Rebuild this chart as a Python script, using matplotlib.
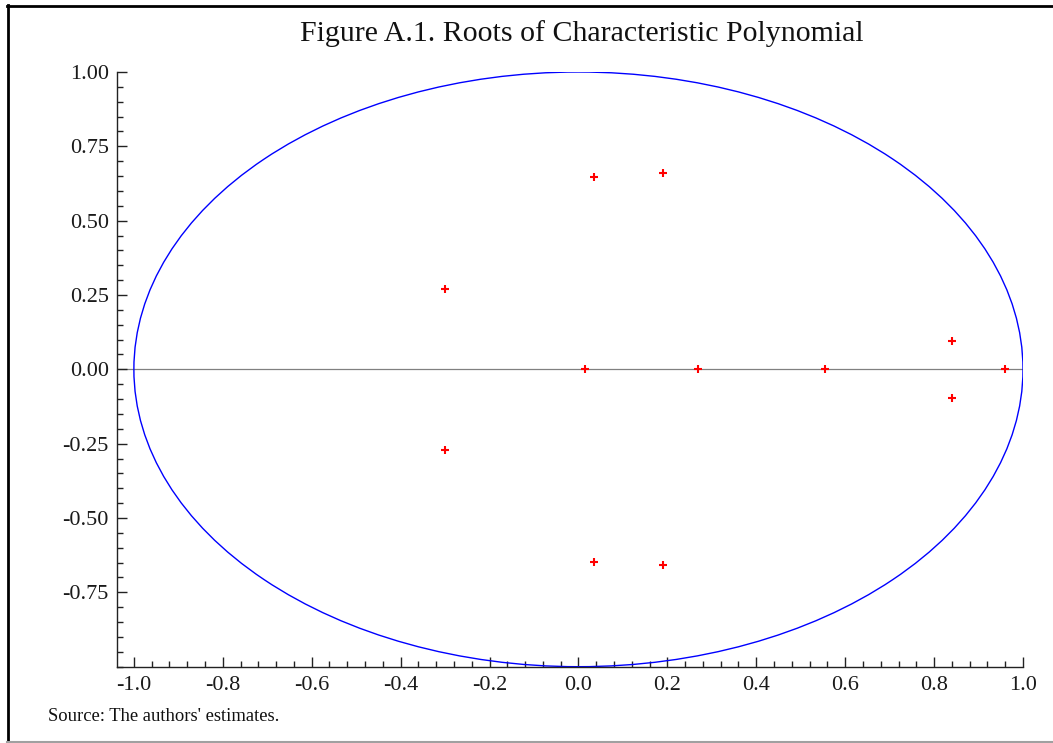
import matplotlib
matplotlib.use("Agg")
import matplotlib.pyplot as plt
from matplotlib.patches import Circle
from matplotlib.lines import Line2D
from matplotlib.ticker import MultipleLocator, FixedLocator

# Data: roots of the characteristic polynomial (real, imaginary)
root_real = [0.035, 0.19, -0.30, -0.30, 0.035, 0.19, 0.015, 0.27, 0.555, 0.96, 0.84, 0.84]
root_imag = [0.648, 0.659, 0.271, -0.271, -0.648, -0.659, 0.0, 0.0, 0.0, 0.0, 0.097, -0.097]

x_ticks = [-1.0, -0.8, -0.6, -0.4, -0.2, 0.0, 0.2, 0.4, 0.6, 0.8, 1.0]
x_labels = ["-1.0", "-0.8", "-0.6", "-0.4", "-0.2", "0.0", "0.2", "0.4", "0.6", "0.8", "1.0"]
y_ticks = [1.00, 0.75, 0.50, 0.25, 0.00, -0.25, -0.50, -0.75]
y_labels = ["1.00", "0.75", "0.50", "0.25", "0.00", "-0.25", "-0.50", "-0.75"]

title = "Figure A.1. Roots of Characteristic Polynomial"
source = "Source: The authors' estimates."

plt.rcParams['font.family'] = ['Liberation Serif', 'DejaVu Serif']

fig = plt.figure(figsize=(10.53, 7.43), dpi=100)
ax = fig.add_axes([0.1111, 0.1027, 0.8604, 0.8004])

ax.add_patch(Circle((0, 0), 1.0, fill=False, edgecolor='#0000ff', lw=1.0, zorder=2))
ax.axhline(0, color='#808080', lw=0.9, zorder=1)
ax.plot(root_real, root_imag, linestyle='none', marker='+', color='#ff0000',
        markersize=6, markeredgewidth=1.5, zorder=3)

ax.set_xlim(-1.038, 1.0)
ax.set_ylim(-1.0, 1.0)

for s in ['top', 'right']:
    ax.spines[s].set_visible(False)
for s in ['left', 'bottom']:
    ax.spines[s].set_color('#222222')
    ax.spines[s].set_linewidth(1.0)

ax.xaxis.set_major_locator(FixedLocator(x_ticks))
ax.set_xticklabels(x_labels)
ax.yaxis.set_major_locator(FixedLocator(y_ticks))
ax.set_yticklabels(y_labels)
ax.xaxis.set_minor_locator(MultipleLocator(0.04))
ax.yaxis.set_minor_locator(MultipleLocator(0.05))

ax.tick_params(which='major', direction='in', length=7, width=1.0, color='#222222',
               labelsize=16, labelcolor='#1a1a1a')
ax.tick_params(which='minor', direction='in', length=4, width=1.0, color='#222222')
ax.tick_params(axis='x', which='major', pad=7)
ax.tick_params(axis='y', which='major', pad=6)

fig.text(0.553, 0.955, title, ha='center', va='center', fontsize=21.5, color='#111111')
fig.text(0.0456, 0.029, source, ha='left', va='baseline', fontsize=13.4, color='#111111')

# Figure frame: black left/top, gray bottom
fig.add_artist(Line2D([0.0075, 0.0075], [0.0015, 0.9935], transform=fig.transFigure, color='black', lw=2))
fig.add_artist(Line2D([0.0065, 1.0], [0.9925, 0.9925], transform=fig.transFigure, color='black', lw=2))
fig.add_artist(Line2D([0.0065, 1.0], [0.0015, 0.0015], transform=fig.transFigure, color='#a0a0a0', lw=1.5))

fig.savefig("out.png", dpi=100)
